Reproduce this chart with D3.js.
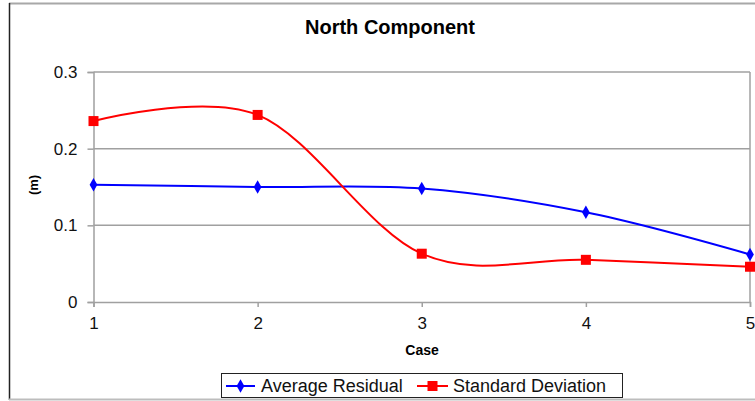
<!DOCTYPE html>
<html><head><meta charset="utf-8">
<script src="https://cdn.jsdelivr.net/npm/d3@7"></script>
<style>html,body{margin:0;padding:0;background:#fff;}svg{display:block;font-family:"Liberation Sans",Arial,sans-serif;}</style>
</head><body><svg id="c" width="755" height="401"></svg>
<script>
const cases = [1, 2, 3, 4, 5];
const averageResidual = [0.153, 0.150, 0.148, 0.117, 0.062];
const standardDeviation = [0.236, 0.244, 0.063, 0.055, 0.046];
const yTicks = [0, 0.1, 0.2, 0.3];
const seriesNames = ["Average Residual", "Standard Deviation"];

const svg = d3.select("#c");
const L = 93.5, R = 750, T = 72, B = 302;
const x = d3.scaleLinear().domain([1, 5]).range([L, R]);
const y = d3.scaleLinear().domain([0, 0.3]).range([B, T]);
const grid = "#a0a0a0";

// outer border
svg.append("line").attr("x1", 9).attr("x2", 755).attr("y1", 3.5).attr("y2", 3.5).attr("stroke", "#a8a8a8").attr("stroke-width", 2);
svg.append("line").attr("x1", 9.5).attr("x2", 9.5).attr("y1", 3).attr("y2", 400).attr("stroke", "#222").attr("stroke-width", 1.5);
svg.append("line").attr("x1", 9).attr("x2", 755).attr("y1", 399.5).attr("y2", 399.5).attr("stroke", "#bdbdbd").attr("stroke-width", 2);

// title
svg.append("text").attr("x", 390).attr("y", 34).attr("text-anchor", "middle")
  .attr("font-weight", "bold").attr("font-size", 20).text("North Component");

// gridlines
svg.append("g").selectAll("line").data(yTicks.filter(d => d > 0)).join("line")
  .attr("x1", L).attr("x2", R).attr("y1", d => y(d)).attr("y2", d => y(d))
  .attr("stroke", grid).attr("stroke-width", 1.5);
svg.append("line").attr("x1", R).attr("x2", R).attr("y1", T).attr("y2", B).attr("stroke", grid).attr("stroke-width", 1.5);

// y axis
const ya = svg.append("g").attr("transform", `translate(${L},0)`)
  .call(d3.axisLeft(y).tickValues(yTicks).tickFormat(d => d === 0 ? "0" : d3.format(".1f")(d)).tickSize(6).tickPadding(10));
ya.select(".domain").attr("stroke", grid).attr("stroke-width", 1.5);
ya.selectAll(".tick line").attr("stroke", grid).attr("stroke-width", 1.5);
ya.selectAll("text").attr("font-size", 17).attr("fill", "#111").attr("font-family", "Liberation Sans, Arial, sans-serif");

// x axis
const xa = svg.append("g").attr("transform", `translate(0,${B})`)
  .call(d3.axisBottom(x).tickValues(cases).tickFormat(d3.format("d")).tickSize(5).tickPadding(10));
xa.select(".domain").attr("stroke", grid).attr("stroke-width", 1.5);
xa.selectAll(".tick line").attr("stroke", grid).attr("stroke-width", 1.5);
xa.selectAll("text").attr("font-size", 17).attr("fill", "#111").attr("font-family", "Liberation Sans, Arial, sans-serif");

// axis titles
svg.append("text").attr("x", 422).attr("y", 355).attr("text-anchor", "middle")
  .attr("font-weight", "bold").attr("font-size", 14).text("Case");
svg.append("text").attr("transform", "translate(38,185) rotate(-90)").attr("text-anchor", "middle")
  .attr("font-weight", "bold").attr("font-size", 13).text("(m)");

// lines
const line = d3.line().x((d, i) => x(cases[i])).y(d => y(d)).curve(d3.curveCatmullRom.alpha(0));
const colors = ["#0000ff", "#ff0000"];
[averageResidual, standardDeviation].forEach((vals, k) => {
  svg.append("path").attr("d", line(vals)).attr("fill", "none").attr("stroke", colors[k]).attr("stroke-width", 2);
});
// markers
const diamond = d3.symbol().type(d3.symbolDiamond).size(52);
svg.append("g").selectAll("path").data(averageResidual).join("path")
  .attr("d", diamond).attr("transform", (d, i) => `translate(${x(cases[i])},${y(d)})`).attr("fill", colors[0]);
svg.append("g").selectAll("rect").data(standardDeviation).join("rect")
  .attr("x", (d, i) => x(cases[i]) - 5).attr("y", d => y(d) - 5).attr("width", 10).attr("height", 10).attr("fill", colors[1]);

// legend
const lg = svg.append("g");
lg.append("rect").attr("x", 221.5).attr("y", 373.5).attr("width", 401).attr("height", 24).attr("fill", "#fff").attr("stroke", "#222").attr("stroke-width", 1);
const items = [{x0: 226, x1: 255, tx: 261}, {x0: 417, x1: 448, tx: 453}];
items.forEach((it, k) => {
  const cy = 386;
  lg.append("line").attr("x1", it.x0).attr("x2", it.x1).attr("y1", cy).attr("y2", cy).attr("stroke", colors[k]).attr("stroke-width", 2);
  const mx = (it.x0 + it.x1) / 2;
  if (k === 0) lg.append("path").attr("d", diamond).attr("transform", `translate(${mx},${cy})`).attr("fill", colors[0]);
  else lg.append("rect").attr("x", mx - 5).attr("y", cy - 5).attr("width", 10).attr("height", 10).attr("fill", colors[1]);
  lg.append("text").attr("x", it.tx).attr("y", 392).attr("font-size", 18).attr("fill", "#111").text(seriesNames[k]);
});
</script></body></html>
